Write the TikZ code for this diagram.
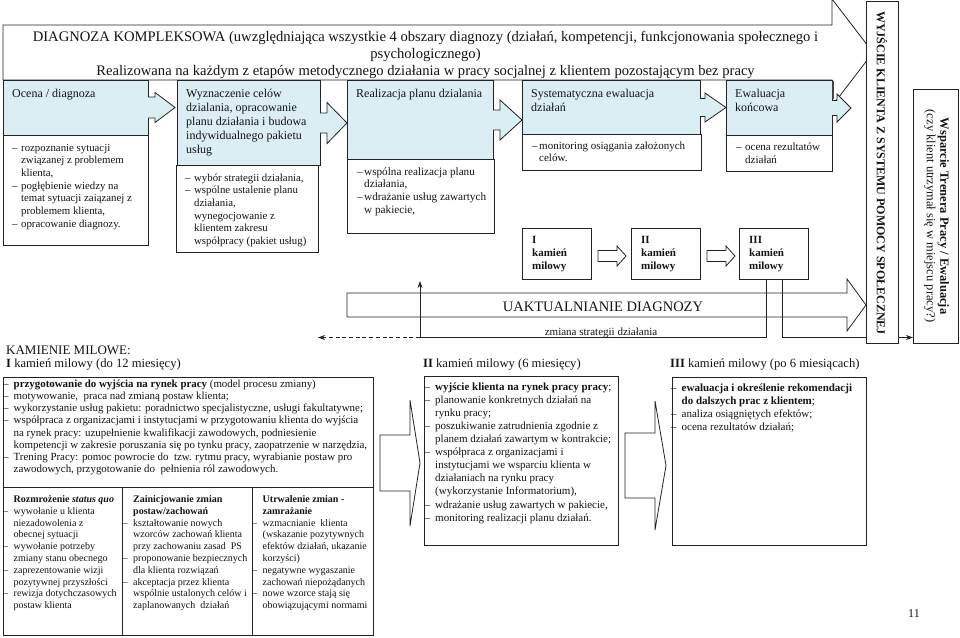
\documentclass[tikz,border=0pt]{standalone}
\usepackage{fontspec}
\setmainfont{Liberation Serif}
\usetikzlibrary{arrows.meta}
\definecolor{bl}{RGB}{219,238,243}
\definecolor{lc}{RGB}{35,35,35}
\definecolor{tc}{RGB}{20,20,20}
\newcommand{\fsz}[2]{\fontsize{#1}{#2}\selectfont}
\newcommand{\dn}{\makebox[9pt][l]{–}}
\newcommand{\sn}{\hspace*{9pt}}
\newcommand{\dm}{\makebox[7pt][l]{–}}
\newcommand{\sm}{\hspace*{7pt}}
\newcommand{\dw}{\makebox[10.5pt][l]{–}}
\newcommand{\sw}{\hspace*{10.5pt}}
\newcommand{\bx}[6]{\node[boxst, fill=#6, minimum width=#4pt, minimum height=#5pt] (#1) at (#2,#3) {};}
% closed block arrow: style, x0, xb, xt, yc, hb, hh
\newcommand{\barr}[7]{\filldraw[#1] (#2,#5-#6) -- (#3,#5-#6) -- (#3,#5-#7) -- (#4,#5) -- (#3,#5+#7) -- (#3,#5+#6) -- (#2,#5+#6) -- cycle;}
% stage arrow open on the left: x0, xb, xt, yc, hb, hh
\newcommand{\sarr}[6]{%
 \fill[bl] (#1-0.6,#4-#5) -- (#2,#4-#5) -- (#2,#4-#6) -- (#3,#4) -- (#2,#4+#6) -- (#2,#4+#5) -- (#1-0.6,#4+#5) -- cycle;
 \draw[ln] (#1,#4-#5) -- (#2,#4-#5) -- (#2,#4-#6) -- (#3,#4) -- (#2,#4+#6) -- (#2,#4+#5) -- (#1,#4+#5);}
\begin{document}
\begin{tikzpicture}[x=1pt,y=-1pt,
  ln/.style={draw=lc,line width=0.8pt},
  boxst/.style={ln, anchor=north west, inner sep=0pt, outer sep=0pt},
  txt/.style={anchor=north west, inner sep=0pt, align=left, text=tc},
  tipst/.style={-{Stealth[length=7pt,width=5pt]}}]
\useasboundingbox (0,0) rectangle (960,637);
\fill[white] (0,0) rectangle (960,637);

% big arrows
\filldraw[ln, fill=white] (3,25) -- (832,25) -- (832,-1) -- (873,52.5) -- (832,106) -- (832,80) -- (3,80) -- cycle;
\filldraw[ln, fill=white] (347,293) -- (847,293) -- (847,279) -- (866,305) -- (847,331) -- (847,317) -- (347,317) -- cycle;

% stage boxes
\bx{s1}{3}{80}{145}{55}{bl}
\bx{l1}{3}{135}{145}{110}{white}
\bx{s2}{177}{80}{143}{85}{bl}
\bx{l2}{176}{165}{142}{87}{white}
\bx{s3}{347}{80.5}{146}{78.5}{bl}
\bx{l3}{347}{159}{147}{74}{white}
\bx{s4}{522}{80.5}{178}{53.5}{bl}
\bx{l4}{522}{134}{179}{36}{white}
\bx{s5}{726}{80}{106}{55}{bl}
\bx{l5}{726}{135}{106}{36}{white}
\sarr{148}{155}{175}{107.5}{10.5}{15}
\sarr{320}{327}{347}{123}{10}{20.5}
\sarr{493}{500}{522}{120}{10}{20}
\sarr{700}{705}{726}{107.5}{9}{14.5}
\sarr{832}{837}{851}{108}{7.5}{14}
\draw[line width=2.2pt, draw=lc!85] (833.3,80.5) -- (833.3,99);

% milestones
\bx{m1}{522}{228}{69}{51}{white}
\bx{m2}{631}{228}{69}{51}{white}
\bx{m3}{739}{228}{69}{51}{white}
\barr{ln, fill=white}{598}{617}{626}{256}{5.5}{10}
\barr{ln, fill=white}{707}{726}{735}{256}{5.5}{10}

% exit boxes
\bx{wy}{866}{1.5}{32}{341.5}{white}
\bx{ws}{913}{89}{45}{254}{white}

% connectors
\coordinate (zs) at (420,337.5);
\coordinate (up) at (420,281);
\coordinate (dl) at (318,337.5);
\draw[ln] ([xshift=27pt]m3.south west) |- (zs);
\draw[ln, tipst] (zs) -- (up);
\draw[ln, dash pattern=on 4pt off 2.7pt, tipst] (zs) -- (dl);
\draw[ln] ([xshift=43pt]m3.south west) |- (wy.west |- zs);
\draw[ln, tipst] (wy.east |- zs) -- (ws.west |- zs);

% bottom section
\bx{bI}{3}{377}{370}{110}{white}
\bx{c1}{3}{487}{119}{148}{white}
\bx{c2}{122}{487}{130}{148}{white}
\bx{c3}{252}{487}{121}{148}{white}
\bx{bII}{424}{376}{194}{169}{white}
\bx{bIII}{672}{377}{194}{168}{white}
\barr{ln, fill=white}{380}{410}{420}{463}{28}{63}
\barr{ln, fill=white}{625}{655}{666}{465.5}{32.5}{64.5}

% texts
\node[anchor=north, align=center, inner sep=0pt, text=tc, font=\fsz{14.6}{16.8}] (title) at (425.5,29.9)
 {\strut DIAGNOZA KOMPLEKSOWA (uwzględniająca wszystkie 4 obszary diagnozy (działań, kompetencji, funkcjonowania społecznego i\\
 psychologicznego)\\
 Realizowana na każdym z etapów metodycznego działania w pracy socjalnej z klientem pozostającym bez pracy};

\node[txt, font=\fsz{12}{14.2}] (t1) at (12,87) {\strut Ocena / diagnoza};
\node[txt, font=\fsz{12}{14.2}] (t2) at (186,87) {\strut Wyznaczenie celów\\dzialania, opracowanie\\planu działania i budowa\\indywidualnego pakietu\\usług};
\node[txt, font=\fsz{12}{14.2}] (t3) at (356,87) {\strut Realizacja planu dzialania};
\node[txt, font=\fsz{12}{14.2}] (t4) at (531,87) {\strut Systematyczna ewaluacja\\działań};
\node[txt, font=\fsz{12}{14.2}] (t5) at (735,87) {\strut Ewaluacja\\końcowa};

\node[txt, font=\fsz{10.8}{12.7}] (x1) at (12,142) {\strut\dn rozpoznanie sytuacji\\ \sn związanej z problemem\\ \sn klienta,\\ \dn pogłębienie wiedzy na\\ \sn temat sytuacji zaiązanej z\\ \sn problemem klienta,\\ \dn opracowanie diagnozy.};
\node[txt, font=\fsz{10.8}{12.7}] (x2) at (185,172) {\strut\dn wybór strategii działania,\\ \dn wspólne ustalenie planu\\ \sn działania,\\ \sn wynegocjowanie z\\ \sn klientem zakresu\\ \sn współpracy (pakiet usług)};
\node[txt, font=\fsz{11.2}{12.8}] (x3) at (357,166) {\strut\dm wspólna realizacja planu\\ \sm działania,\\ \dm wdrażanie usług zawartych\\ \sm w pakiecie,};
\node[txt, font=\fsz{11}{12.2}] (x4) at (532,141) {\strut\dm monitoring osiągania założonych\\ \sm celów.};
\node[txt, font=\fsz{11}{12.5}] (x5) at (736,142) {\strut\dn ocena rezultatów\\ \sn działań};

\node[txt, font=\bfseries\fsz{11}{13}] (mt1) at (532,234.4) {\strut I\\kamień\\milowy};
\node[txt, font=\bfseries\fsz{11}{13}] (mt2) at (641,234.4) {\strut II\\kamień\\milowy};
\node[txt, font=\bfseries\fsz{11}{13}] (mt3) at (749,234.4) {\strut III\\kamień\\milowy};

\node[anchor=base, inner sep=0pt, text=tc, font=\fsz{14.5}{17}] (ut) at (603,311.5) {UAKTUALNIANIE DIAGNOZY};
\node[anchor=base, inner sep=0pt, text=tc, font=\fsz{11}{13}] (zm) at (601,335.5) {zmiana strategii działania};

\node[rotate=-90, inner sep=0pt, text=tc, font=\bfseries\fsz{12}{14}] (wyt) at (882,173) {WYJŚCIE KLIENTA Z SYSTEMU POMOCY SPOŁECZNEJ};
\node[rotate=-90, align=center, inner sep=0pt, text=tc, font=\fsz{12.5}{13.5}] (wst) at (936.5,216) {\textbf{Wsparcie Trenera Pracy / Ewaluacja}\\(czy klient utrzymał się w miejscu pracy?)};

\node[anchor=base west, inner sep=0pt, text=tc, font=\fsz{13}{15}] (km) at (6,354) {KAMIENIE MILOWE:};
\node[anchor=base west, inner sep=0pt, text=tc, font=\fsz{12.6}{15}] (h1) at (6,367.5) {\textbf{I} kamień milowy (do 12 miesięcy)};
\node[anchor=base west, inner sep=0pt, text=tc, font=\fsz{12.6}{15}] (h2) at (423,367.5) {\textbf{II} kamień milowy (6 miesięcy)};
\node[anchor=base west, inner sep=0pt, text=tc, font=\fsz{12.6}{15}] (h3) at (670,367.5) {\textbf{III} kamień milowy (po 6 miesiącach)};

\node[txt, font=\fsz{10.9}{12.2}] (bt) at (3,378.6) {\strut\dw\textbf{przygotowanie do wyjścia na rynek pracy} (model procesu zmiany)\\
 \dw motywowanie,\ \ praca nad zmianą postaw klienta;\\
 \dw wykorzystanie usług pakietu: poradnictwo specjalistyczne, usługi fakultatywne;\\
 \dw współpraca z organizacjami i instytucjami w przygotowaniu klienta do wyjścia\\
 \sw na rynek pracy: uzupełnienie kwalifikacji zawodowych, podniesienie\\
 \sw kompetencji w zakresie poruszania się po tynku pracy, zaopatrzenie w narzędzia,\\
 \dw Trening Pracy: pomoc powrocie do\ \ tzw. rytmu pracy, wyrabianie postaw pro\\
 \sw zawodowych, przygotowanie do\ \ pełnienia ról zawodowych.};

\node[txt, font=\fsz{10}{11.8}] (ct1) at (3,494) {\strut\sw\textbf{Rozmrożenie \textit{status quo}}\\
 \dw wywołanie u klienta\\ \sw niezadowolenia z\\ \sw obecnej sytuacji\\
 \dw wywołanie potrzeby\\ \sw zmiany stanu obecnego\\
 \dw zaprezentowanie wizji\\ \sw pozytywnej przyszłości\\
 \dw rewizja dotychczasowych\\ \sw postaw klienta};
\node[txt, font=\fsz{10}{11.8}] (ct2) at (122.5,494) {\strut\sw\textbf{Zainicjowanie zmian}\\ \sw\textbf{postaw/zachowań}\\
 \dw kształtowanie nowych\\ \sw wzorców zachowań klienta\\ \sw przy zachowaniu zasad\ \ PS\\
 \dw proponowanie bezpiecznych\\ \sw dla klienta rozwiązań\\
 \dw akceptacja przez klienta\\ \sw wspólnie ustalonych celów i\\ \sw zaplanowanych\ \ działań};
\node[txt, font=\fsz{10}{11.8}] (ct3) at (252,494) {\strut\sw\textbf{Utrwalenie zmian -}\\ \sw\textbf{zamrażanie}\\
 \dw wzmacnianie\ \ klienta\\ \sw (wskazanie pozytywnych\\ \sw efektów działań, ukazanie\\ \sw korzyści)\\
 \dw negatywne wygaszanie\\ \sw zachowań niepożądanych\\
 \dw nowe wzorce stają się\\ \sw obowiązującymi normami};

\node[txt, font=\fsz{11}{13.1}] (bt2) at (424.5,380.8) {\strut\dw\textbf{wyjście klienta na rynek pracy pracy};\\
 \dw planowanie konkretnych działań na\\ \sw rynku pracy;\\
 \dw poszukiwanie zatrudnienia zgodnie z\\ \sw planem działań zawartym w kontrakcie;\\
 \dw współpraca z organizacjami i\\ \sw instytucjami we wsparciu klienta w\\ \sw działaniach na rynku pracy\\ \sw (wykorzystanie Informatorium),\\
 \dw wdrażanie usług zawartych w pakiecie,\\
 \dw monitoring realizacji planu działań.};
\node[txt, font=\fsz{11}{13}] (bt3) at (671,381.9) {\strut\dw\textbf{ewaluacja i określenie rekomendacji}\\ \sw\textbf{do dalszych prac z klientem};\\
 \dw analiza osiągniętych efektów;\\ \dw ocena rezultatów działań;};

\node[anchor=base, inner sep=0pt, text=tc, font=\fsz{12}{14}] (pg) at (914,617) {11};
\end{tikzpicture}
\end{document}
